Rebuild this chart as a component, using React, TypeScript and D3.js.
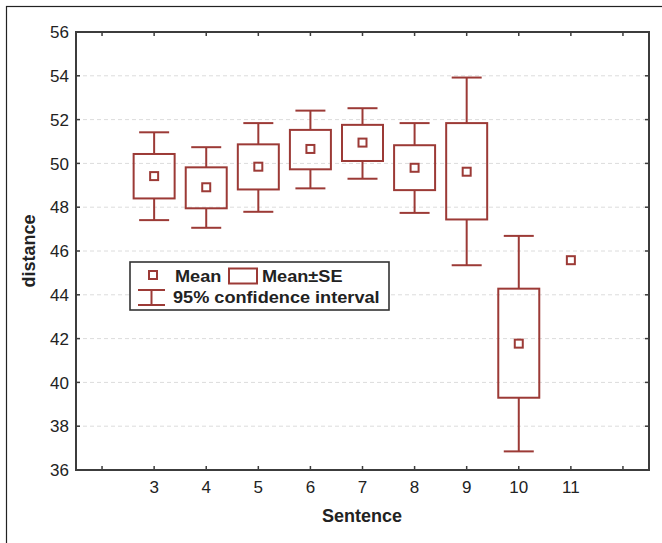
import React, { useEffect, useRef } from "react";
import * as d3 from "d3";

// values
const sentences = [3, 4, 5, 6, 7, 8, 9, 10, 11];
const means = [49.42, 48.91, 49.85, 50.66, 50.95, 49.8, 49.62, 41.77, 45.58];
const seLow = [48.4, 47.95, 48.81, 49.73, 50.11, 48.78, 47.44, 39.3, null];
const seHigh = [50.43, 49.82, 50.87, 51.53, 51.76, 50.83, 51.84, 44.28, null];
const ciLow = [47.41, 47.06, 47.79, 48.86, 49.3, 47.74, 45.35, 36.85, null];
const ciHigh = [51.42, 50.74, 51.84, 52.41, 52.52, 51.84, 53.92, 46.69, null];
const yTicks = [36, 38, 40, 42, 44, 46, 48, 50, 52, 54, 56];
const xTicks = [2, 3, 4, 5, 6, 7, 8, 9, 10, 11, 12];

const RED = "#9c3a36";
const AXIS = "#3c3c3c";
const FONT = "'Liberation Sans', Arial, sans-serif";

const drawChart = (svgRef) => {
  const width = 662,
    height = 543;
  const left = 76,
    right = 649,
    top = 32,
    bottom = 470;

  const svg = d3.select(svgRef.current);
  svg.selectAll("*").remove();
  svg.attr("width", width).attr("height", height);

  const x = d3.scaleLinear().domain([1.5, 12.5]).range([left, right]);
  const y = d3.scaleLinear().domain([36, 56]).range([bottom, top]);

  // outer frame
  svg
    .append("rect")
    .attr("x", 6.5)
    .attr("y", 6.5)
    .attr("width", 670)
    .attr("height", 560)
    .attr("fill", "white")
    .attr("stroke", "#222")
    .attr("stroke-width", 1.2);

  // gridlines
  svg
    .append("g")
    .selectAll("line")
    .data(yTicks.slice(1, -1))
    .enter()
    .append("line")
    .attr("x1", left)
    .attr("x2", right)
    .attr("y1", (d) => y(d))
    .attr("y2", (d) => y(d))
    .attr("stroke", "#dcdcdc")
    .attr("stroke-dasharray", "4,3")
    .attr("stroke-width", 1);

  // ticks on all sides pointing inward
  const ticks = svg.append("g").attr("stroke", AXIS).attr("stroke-width", 1.5);
  yTicks.forEach((t) => {
    ticks.append("line").attr("x1", left).attr("x2", left + 4).attr("y1", y(t)).attr("y2", y(t));
    ticks.append("line").attr("x1", right).attr("x2", right - 4).attr("y1", y(t)).attr("y2", y(t));
  });
  xTicks.forEach((t) => {
    ticks.append("line").attr("x1", x(t)).attr("x2", x(t)).attr("y1", bottom).attr("y2", bottom - 4);
    ticks.append("line").attr("x1", x(t)).attr("x2", x(t)).attr("y1", top).attr("y2", top + 4);
  });

  // plot frame
  svg
    .append("rect")
    .attr("x", left)
    .attr("y", top)
    .attr("width", right - left)
    .attr("height", bottom - top)
    .attr("fill", "none")
    .attr("stroke", AXIS)
    .attr("stroke-width", 2);

  // tick labels
  svg
    .append("g")
    .selectAll("text")
    .data(yTicks)
    .enter()
    .append("text")
    .attr("x", 69)
    .attr("y", (d) => y(d))
    .attr("dy", "0.36em")
    .attr("text-anchor", "end")
    .attr("font-family", FONT)
    .attr("font-size", 17)
    .attr("fill", "#222")
    .text((d) => d);

  svg
    .append("g")
    .selectAll("text")
    .data(sentences)
    .enter()
    .append("text")
    .attr("x", (d) => x(d))
    .attr("y", 493)
    .attr("text-anchor", "middle")
    .attr("font-family", FONT)
    .attr("font-size", 17)
    .attr("fill", "#222")
    .text((d) => d);

  // axis titles
  svg
    .append("text")
    .attr("x", 362)
    .attr("y", 522)
    .attr("text-anchor", "middle")
    .attr("font-family", FONT)
    .attr("font-weight", "bold")
    .attr("font-size", 18)
    .attr("fill", "#222")
    .text("Sentence");

  svg
    .append("text")
    .attr("transform", "translate(35,251) rotate(-90)")
    .attr("text-anchor", "middle")
    .attr("font-family", FONT)
    .attr("font-weight", "bold")
    .attr("font-size", 18)
    .attr("fill", "#222")
    .text("distance");

  // boxes
  const boxW = 41,
    capW = 30,
    meanS = 8;
  const g = svg.append("g").attr("stroke", RED).attr("stroke-width", 2).attr("fill", "none");
  sentences.forEach((s, i) => {
    const cx = x(s);
    if (ciHigh[i] != null) {
      g.append("line").attr("x1", cx).attr("x2", cx).attr("y1", y(ciHigh[i])).attr("y2", y(seHigh[i]));
      g.append("line").attr("x1", cx).attr("x2", cx).attr("y1", y(seLow[i])).attr("y2", y(ciLow[i]));
      g.append("line").attr("x1", cx - capW / 2).attr("x2", cx + capW / 2).attr("y1", y(ciHigh[i])).attr("y2", y(ciHigh[i]));
      g.append("line").attr("x1", cx - capW / 2).attr("x2", cx + capW / 2).attr("y1", y(ciLow[i])).attr("y2", y(ciLow[i]));
      g.append("rect")
        .attr("x", cx - boxW / 2)
        .attr("y", y(seHigh[i]))
        .attr("width", boxW)
        .attr("height", y(seLow[i]) - y(seHigh[i]));
    }
    g.append("rect")
      .attr("x", cx - meanS / 2)
      .attr("y", y(means[i]) - meanS / 2)
      .attr("width", meanS)
      .attr("height", meanS);
  });

  // legend
  const lg = svg.append("g");
  lg.append("rect")
    .attr("x", 130)
    .attr("y", 262)
    .attr("width", 259)
    .attr("height", 48)
    .attr("fill", "white")
    .attr("stroke", "#333")
    .attr("stroke-width", 1.6);
  const lm = lg.append("g").attr("stroke", RED).attr("stroke-width", 2).attr("fill", "none");
  lm.append("rect").attr("x", 149).attr("y", 271).attr("width", 8).attr("height", 8);
  lm.append("rect").attr("x", 229).attr("y", 268.5).attr("width", 28).attr("height", 15);
  lm.append("line").attr("x1", 138).attr("x2", 165).attr("y1", 290).attr("y2", 290);
  lm.append("line").attr("x1", 138).attr("x2", 165).attr("y1", 305).attr("y2", 305);
  lm.append("line").attr("x1", 151.5).attr("x2", 151.5).attr("y1", 290).attr("y2", 305);
  const legendText = [
    { x: 175, y: 282, t: "Mean" },
    { x: 262, y: 282, t: "Mean±SE" },
    { x: 173, y: 303, t: "95% confidence interval" },
  ];
  lg.selectAll("text")
    .data(legendText)
    .enter()
    .append("text")
    .attr("transform", (d) => `translate(${d.x},${d.y}) scale(1.1,1)`)
    .attr("font-family", FONT)
    .attr("font-weight", "bold")
    .attr("font-size", 16.5)
    .attr("fill", "#222")
    .text((d) => d.t);
};

const App = () => {
  const svg = useRef(null);
  useEffect(() => {
    drawChart(svg);
  }, []);
  return (
    <div style={{ position: "absolute", left: 0, top: 0, width: 662, height: 543, overflow: "hidden", background: "white" }}>
      <svg ref={svg} style={{ display: "block" }} />
    </div>
  );
};

export default App;
